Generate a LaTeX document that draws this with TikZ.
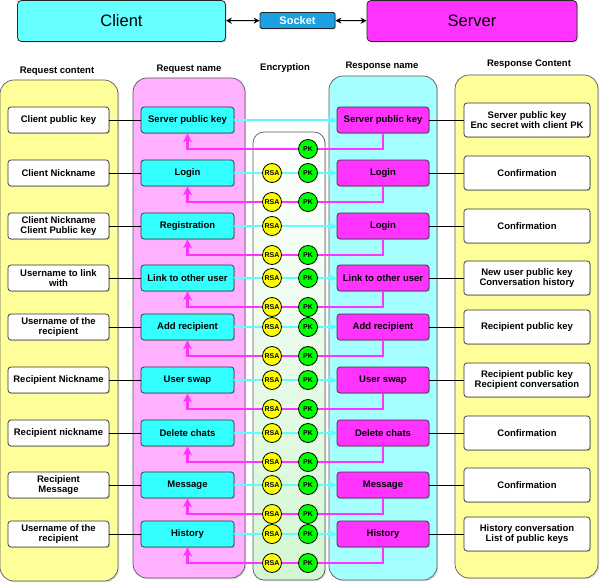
\documentclass[tikz,border=0pt]{standalone}
\usepackage{fontspec}
\setmainfont{Liberation Sans}
\usetikzlibrary{arrows.meta,shadows}

\definecolor{cliC}{HTML}{66FFFF}
\definecolor{srvC}{HTML}{FF33FF}
\definecolor{sockC}{HTML}{1BA1E2}
\definecolor{reqC}{HTML}{33FFFF}
\definecolor{resC}{HTML}{FF33FF}
\definecolor{ylwC}{HTML}{FFFF99}
\definecolor{pinkC}{HTML}{FFB0FF}
\definecolor{cyanC}{HTML}{A6FFFF}
\definecolor{encC}{HTML}{D3F7D3}
\definecolor{rsaC}{HTML}{FFFF00}
\definecolor{pkC}{HTML}{00FF00}
\definecolor{fwdC}{HTML}{5CFFFF}
\definecolor{backC}{HTML}{FF33FF}

\begin{document}
\begin{tikzpicture}[x=1pt,y=-1pt,
    font=\bfseries\fontsize{9.5}{11}\selectfont,
    shade/.style={drop shadow={shadow xshift=1.2pt,shadow yshift=-1.2pt,opacity=0.3}},
    panel/.style={draw=black!65,line width=0.7pt,rounded corners=14pt,shade},
    topbox/.style={draw=black!85,line width=0.8pt,rounded corners=4pt,minimum height=41pt,
        font=\fontsize{16.5}{18}\selectfont,shade},
    qbox/.style={draw=black!80,line width=0.7pt,rounded corners=3pt,fill=reqC,
        minimum width=93pt,minimum height=26pt,inner sep=1pt,shade},
    rbox/.style={qbox,fill=resC,minimum width=92pt},
    cbox/.style={draw=black!80,line width=0.7pt,rounded corners=3pt,fill=white,align=center,
        minimum width=101pt,minimum height=26pt,inner sep=1pt,font=\bfseries\fontsize{9.5}{10.5}\selectfont,shade},
    sbox/.style={cbox,minimum width=126pt,minimum height=34pt},
    rsa/.style={circle,draw=black,line width=0.8pt,fill=rsaC,minimum size=19pt,inner sep=0pt,
        font=\bfseries\fontsize{7}{8}\selectfont},
    pk/.style={rsa,fill=pkC},
    fwd/.style={draw=fwdC,line width=2.2pt,-{Stealth[length=9pt,width=9pt,inset=2.5pt]}},
    back/.style={draw=backC,line width=2.2pt,-{Stealth[length=9pt,width=9pt,inset=2.5pt]}},
    dbl/.style={black,line width=1pt,{Stealth[length=6pt,width=6pt]}-{Stealth[length=6pt,width=6pt]}}]
    \useasboundingbox (0,0) rectangle (601,583);

    % client / socket / server
    \node[topbox,fill=cliC,minimum width=208pt] (cli) at (121.5,21) {Client};
    \node[topbox,fill=srvC,minimum width=210pt] (srv) at (472,21) {Server};
    \node[draw=black!85,line width=0.8pt,rounded corners=1.5pt,fill=sockC,text=white,
        minimum width=75pt,minimum height=16pt,inner sep=0pt,font=\bfseries\fontsize{11}{12}\selectfont,shade]
        (sock) at (297.5,20.5) {Socket};
    \draw[dbl] (cli) -- (sock);
    \draw[dbl] (sock) -- (srv);

    % column headers
    \node (h1) at (57,71) {Request content};
    \node (h2) at (189,69) {Request name};
    \node (h3) at (285,68) {Encryption};
    \node (h4) at (382,66) {Response name};
    \node (h5) at (529,64) {Response Content};

    % columns
    \path[panel,fill=ylwC] (0,80) rectangle (118,581);
    \path[panel,fill=pinkC] (133,78) rectangle (245,578);
    \path[panel,top color=white,bottom color=encC,draw=black!65,rounded corners=11pt] (253,132) rectangle (325,580);
    \path[panel,fill=cyanC] (329,76) rectangle (437,580);
    \path[panel,fill=ylwC] (455,75) rectangle (598,578);

    % rows
    \node[cbox] (c1) at (58.5,120) {Client public key};
    \node[qbox] (q1) at (187.5,120) {Server public key};
    \node[rbox] (r1) at (383,120) {Server public key};
    \node[sbox] (s1) at (527,120) {Server public key\\Enc secret with client PK};

    \node[cbox] (c2) at (58.5,173) {Client Nickname};
    \node[qbox] (q2) at (187.5,173) {Login};
    \node[rbox] (r2) at (383,173) {Login};
    \node[sbox] (s2) at (527,173) {Confirmation};

    \node[cbox] (c3) at (58.5,226) {Client Nickname\\Client Public key};
    \node[qbox] (q3) at (187.5,226) {Registration};
    \node[rbox] (r3) at (383,226) {Login};
    \node[sbox] (s3) at (527,226) {Confirmation};

    \node[cbox] (c4) at (58.5,278) {Username to link\\with};
    \node[qbox] (q4) at (187.5,278) {Link to other user};
    \node[rbox] (r4) at (383,278) {Link to other user};
    \node[sbox] (s4) at (527,278) {New user public key\\Conversation history};

    \node[cbox] (c5) at (58.5,327) {Username of the\\recipient};
    \node[qbox] (q5) at (187.5,327) {Add recipient};
    \node[rbox] (r5) at (383,327) {Add recipient};
    \node[sbox] (s5) at (527,327) {Recipient public key};

    \node[cbox] (c6) at (58.5,380) {Recipient Nickname};
    \node[qbox] (q6) at (187.5,380) {User swap};
    \node[rbox] (r6) at (383,380) {User swap};
    \node[sbox] (s6) at (527,380) {Recipient public key\\Recipient conversation};

    \node[cbox] (c7) at (58.5,433) {Recipient nickname};
    \node[qbox] (q7) at (187.5,433) {Delete chats};
    \node[rbox] (r7) at (383,433) {Delete chats};
    \node[sbox] (s7) at (527,433) {Confirmation};

    \node[cbox] (c8) at (58.5,485) {Recipient\\Message};
    \node[qbox] (q8) at (187.5,485) {Message};
    \node[rbox] (r8) at (383,485) {Message};
    \node[sbox] (s8) at (527,485) {Confirmation};

    \node[cbox] (c9) at (58.5,534) {Username of the\\recipient};
    \node[qbox] (q9) at (187.5,534) {History};
    \node[rbox] (r9) at (383,534) {History};
    \node[sbox] (s9) at (527,534) {History conversation\\List of public keys};

    % links
    \foreach \i/\yb in {1/149,2/202,3/255,4/307,5/356,6/409,7/462,8/514,9/563} {
        \coordinate (t\i) at (187.5,\yb);
        \draw[back] (r\i.south) |- (t\i) -- (q\i.south);
        \draw[fwd] (q\i) -- (r\i);
        \draw[black,line width=0.7pt] (c\i) -- (q\i);
        \draw[black,line width=0.7pt] (r\i) -- (s\i);
    }

    % keys
    \foreach \i/\y in {2/173,3/226,4/278,5/327,6/380,7/433,8/485,9/534}
        \node[rsa] (a\i) at (272,\y) {RSA};
    \foreach \i/\y in {2/173,4/278,5/327,6/380,7/433,8/485,9/534}
        \node[pk] (p\i) at (308,\y) {PK};
    \foreach \i/\y in {2/202,3/255,4/307,5/356,6/409,7/462,8/514,9/563}
        \node[rsa] (ab\i) at (272,\y) {RSA};
    \foreach \i/\y in {1/149,2/202,3/255,4/307,5/356,6/409,7/462,8/514,9/563}
        \node[pk] (pb\i) at (308,\y) {PK};
\end{tikzpicture}
\end{document}
